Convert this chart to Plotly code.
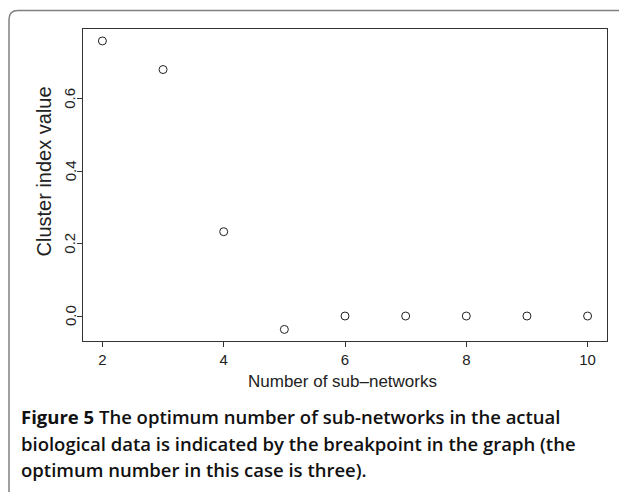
import plotly.graph_objects as go

# ---- data ----
n_subnetworks = [2, 3, 4, 5, 6, 7, 8, 9, 10]
cluster_index = [0.760, 0.681, 0.233, -0.037, 0.0, 0.0, 0.0, 0.0, 0.0]
x_ticks = [2, 4, 6, 8, 10]
y_ticks = [0.0, 0.2, 0.4, 0.6]
y_tick_labels = ["0.0", "0.2", "0.4", "0.6"]
x_title = "Number of sub\u2013networks"
y_title = "Cluster index value"
caption_lines = [
    "<b>Figure 5</b> The optimum number of sub-networks in the actual",
    "biological data is indicated by the breakpoint in the graph (the",
    "optimum number in this case is three).",
]

# ---- layout geometry (pixels, page coordinates; page has an 8px body offset) ----
OFF = 8
W, H = 627, 492
L, R, T, B = 83 - OFF, 20 + OFF, 29 - OFF, 151 + OFF
PW, PH = W - L - R, H - T - B


def px_x(px):
    return (px - OFF - L) / PW


def px_y(py):
    return (H - B - (py - OFF)) / PH


fig = go.Figure()
fig.add_trace(go.Scatter(
    x=n_subnetworks, y=cluster_index, mode="markers",
    marker=dict(symbol="circle-open", size=8, color="#222222",
                line=dict(width=1, color="#222222")),
    showlegend=False, hoverinfo="x+y",
))

axis_font = dict(family="Liberation Sans, Arial, sans-serif", size=15, color="#222222")

fig.update_xaxes(
    range=[1.68, 10.32], tickvals=x_ticks, ticks="outside", ticklen=5,
    tickcolor="#333333", showline=True, linecolor="#333333", linewidth=1,
    mirror=True, showgrid=False, zeroline=False, tickfont=axis_font,
)
fig.update_yaxes(
    range=[-0.069, 0.793], tickvals=y_ticks, showticklabels=False,
    ticks="outside", ticklen=5,
    tickcolor="#333333", showline=True, linecolor="#333333", linewidth=1,
    mirror=True, showgrid=False, zeroline=False,
)

annotations = [
    dict(text=x_title, xref="paper", yref="paper", x=px_x(342), y=px_y(381),
         xanchor="center", yanchor="middle", showarrow=False,
         font=dict(family="Liberation Sans, Arial, sans-serif", size=17, color="#222222")),
    dict(text=y_title, xref="paper", yref="paper", x=px_x(43), y=px_y(171.5),
         xanchor="center", yanchor="middle", showarrow=False, textangle=-90,
         font=dict(family="Liberation Sans, Arial, sans-serif", size=20, color="#222222")),
]
for v, lab in zip(y_ticks, y_tick_labels):
    annotations.append(dict(
        text=lab, xref="paper", yref="y", x=px_x(70), y=v,
        xanchor="center", yanchor="middle", showarrow=False, textangle=-90,
        font=axis_font,
    ))
line_y = [416.5, 443, 469.5]
for txt, yy in zip(caption_lines, line_y):
    annotations.append(dict(
        text=txt, xref="paper", yref="paper", x=px_x(19), y=px_y(yy),
        xanchor="left", yanchor="middle", showarrow=False,
        font=dict(family="Open Sans, sans-serif", size=18.5, color="#111111", weight=600),
    ))

# outer rounded frame
fx, fy, r = 9, 10.5, 9
path = (f"M {px_x(fx)},{px_y(520)} L {px_x(fx)},{px_y(fy + r)} "
        f"Q {px_x(fx)},{px_y(fy)} {px_x(fx + r)},{px_y(fy)} L {px_x(660)},{px_y(fy)}")

fig.update_layout(
    width=W, height=H, margin=dict(l=L, r=R, t=T, b=B, autoexpand=False),
    paper_bgcolor="white", plot_bgcolor="white",
    annotations=annotations,
    shapes=[dict(type="path", path=path, xref="paper", yref="paper",
                 line=dict(color="#808080", width=1.5))],
)

fig.write_html("out.html")
